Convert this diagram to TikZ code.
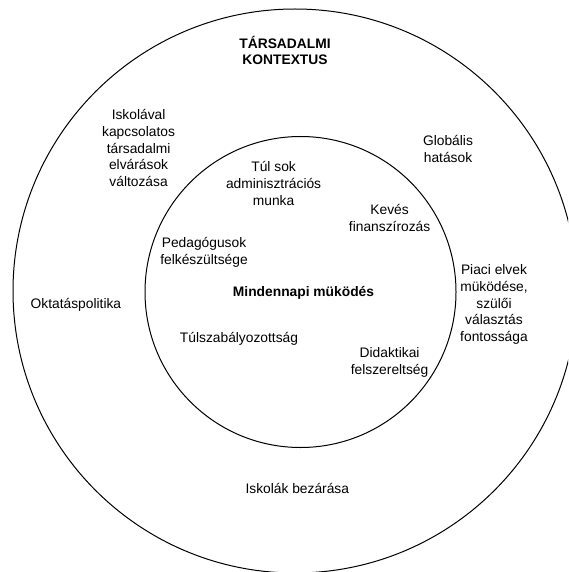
\documentclass[tikz,border=0pt]{standalone}
\usepackage{fontspec}
\setmainfont{Liberation Sans}
\begin{document}
\begin{tikzpicture}[x=1pt,y=-1pt,
  ring/.style={circle, draw=black, line width=1pt, inner sep=0pt},
  lbl/.style={align=center, inner sep=0pt, font=\fontsize{13.8}{16.6}\selectfont},
  boldlbl/.style={lbl, font=\fontsize{13.8}{16.6}\selectfont\bfseries}]
\useasboundingbox (0,0) rectangle (568,572);
\clip (0,0) rectangle (568,572);
\fill[white] (0,0) rectangle (568,572);
\node[ring, minimum size=564pt] (outer) at (295,291) {};
\node[ring, minimum size=311pt] (inner) at (300.5,292) {};
\node[boldlbl] (tars) at (285,50.5) {TÁRSADALMI\\KONTEXTUS};
\node[lbl] (isk) at (138.6,148) {Iskolával\\kapcsolatos\\társadalmi\\elvárások\\változása};
\node[lbl] (glob) at (448,149) {Globális\\hatások};
\node[lbl] (tul) at (273.6,183.5) {Túl sok\\adminisztrációs\\munka};
\node[lbl] (keves) at (389.6,218) {Kevés\\finanszírozás};
\node[lbl] (ped) at (204,252.6) {Pedagógusok\\felkészültsége};
\node[boldlbl] (mind) at (303.5,293) {Mindennapi müködés};
\node[lbl] (okt) at (75.9,304.6) {Oktatáspolitika};
\node[lbl] (piac) at (494,304.6) {Piaci elvek\\müködése,\\szülői\\választás\\fontossága};
\node[lbl] (tulsz) at (239,339.3) {Túlszabályozottság};
\node[lbl] (did) at (389.6,362.5) {Didaktikai\\felszereltség};
\node[lbl] (bez) at (297.3,488.9) {Iskolák bezárása};
\end{tikzpicture}
\end{document}
